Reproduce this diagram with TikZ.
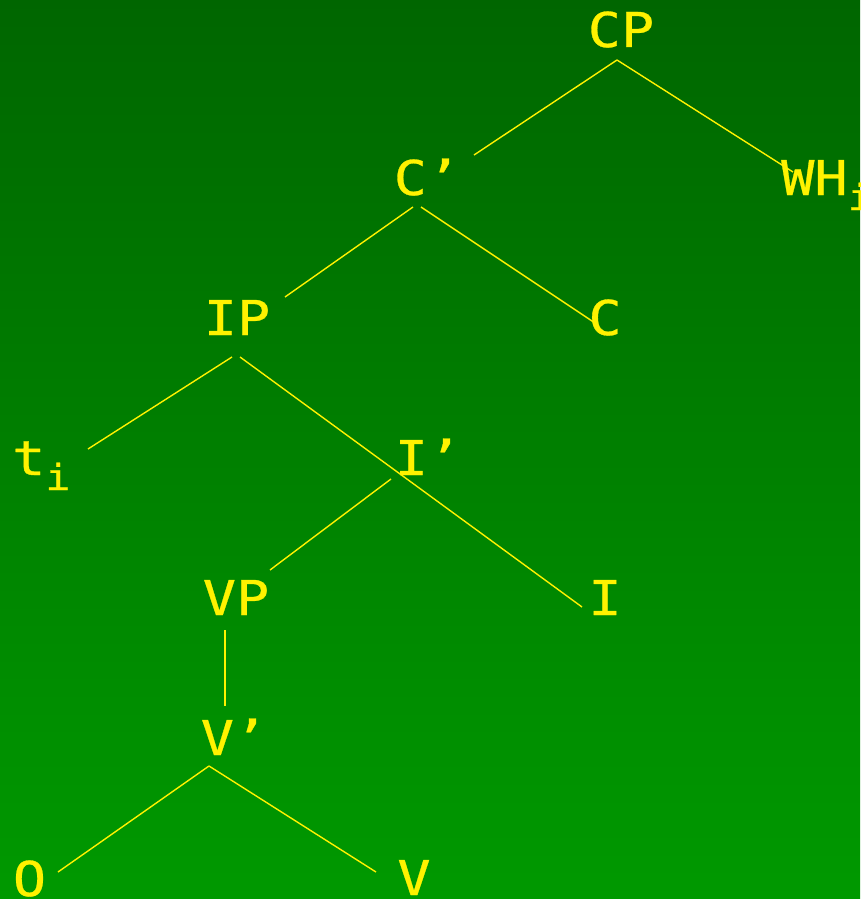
\documentclass[tikz,border=0pt]{standalone}
\usepackage{fontspec}
\newfontfamily\treefont[FakeStretch=1.15,FakeBold=0.6]{DejaVu Sans Mono}
\newcommand{\trsub}[1]{\raisebox{-15pt}{\fontsize{36}{36}\selectfont #1}}
\definecolor{slidetop}{RGB}{0,102,0}
\definecolor{slidebottom}{RGB}{0,153,0}
\tikzstyle{cat}=[text=yellow,inner sep=0pt,anchor=base,font=\treefont\fontsize{48}{48}\selectfont]
\tikzstyle{branch}=[yellow,line width=1.4pt]

\begin{document}
\begin{tikzpicture}[x=1pt,y=-1pt]
  \shade[top color=slidetop,bottom color=slidebottom] (0,0) rectangle (860,899);
  \useasboundingbox (0,0) rectangle (860,899);
  % categories, placed on their baselines
  \node[cat] (cp) at (621,47) {CP};
  \node[cat] (cbar) at (427,195) {C’};
  \node[cat,anchor=base west] (wh) at (781,195) {WH\trsub{i}};
  \node[cat] (ip) at (237,335) {IP};
  \node[cat] (c) at (605,335) {C};
  \node[cat,anchor=base west] (t) at (12,475) {t\trsub{i}};
  \node[cat] (ibar) at (428,475) {I’};
  \node[cat] (vp) at (236,615) {VP};
  \node[cat] (i) at (605,615) {I};
  \node[cat] (vbar) at (234,755) {V’};
  \node[cat] (o) at (29.5,896) {O};
  \node[cat] (v) at (414,895) {V};
  % branches
  \draw[branch] ([shift={(-4,13)}]cp.base) -- ([shift={(47,-40)}]cbar.base);
  \draw[branch] ([shift={(-4,13)}]cp.base) -- ([shift={(12,-23)}]wh.base west);
  \draw[branch] ([shift={(-14,12)}]cbar.base) -- ([shift={(48,-38)}]ip.base);
  \draw[branch] ([shift={(-6,12)}]cbar.base) -- ([shift={(-10,-12)}]c.base);
  \draw[branch] ([shift={(-5,22)}]ip.base) -- ([shift={(76,-26)}]t.base west);
  \draw[branch] ([shift={(3,22)}]ip.base) -- ([shift={(-23,-8)}]i.base);
  \draw[branch] ([shift={(-37,4)}]ibar.base) -- ([shift={(34,-45)}]vp.base);
  \draw[branch] ([shift={(-11,15)}]vp.base) -- ([shift={(-9,-49)}]vbar.base);
  \draw[branch] ([shift={(-25,11)}]vbar.base) -- ([shift={(28.5,-24)}]o.base);
  \draw[branch] ([shift={(-25,11)}]vbar.base) -- ([shift={(-38,-23)}]v.base);
\end{tikzpicture}
\end{document}
